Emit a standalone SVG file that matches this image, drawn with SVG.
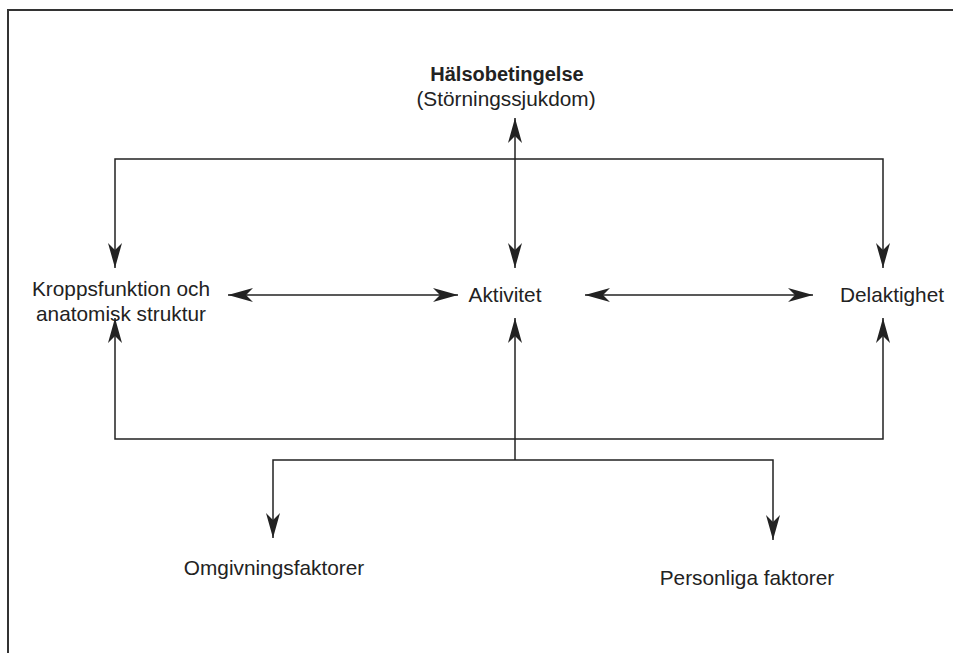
<svg xmlns="http://www.w3.org/2000/svg" width="953" height="653" viewBox="0 0 953 653">
<style>
.t{font-family:"Liberation Sans",Arial,sans-serif;font-size:20.8px;fill:#222;text-anchor:middle}
.b{font-weight:bold;font-size:20px}
.c{fill:none;stroke:#222;stroke-width:1.5}
.f{fill:none;stroke:#333;stroke-width:2}
</style>
<defs>
<marker id="ah" markerUnits="userSpaceOnUse" markerWidth="28" markerHeight="18" viewBox="-26 -9 28 18" refX="0" refY="0" orient="auto-start-reverse">
<path d="M0,0 L-25,-7 L-18,0 L-25,7 Z" fill="#222"/>
</marker>
</defs>
<rect width="953" height="653" fill="#fff"/>
<path class="f" d="M8,653 V10 H953"/>
<g id="connectors">
<path class="c" d="M515,268 V118" marker-start="url(#ah)" marker-end="url(#ah)"/>
<path class="c" d="M115,268 V159 H883 V268" marker-start="url(#ah)" marker-end="url(#ah)"/>
<path class="c" d="M115,318 V439 H883 V318" marker-start="url(#ah)" marker-end="url(#ah)"/>
<path class="c" d="M515,318 V460" marker-start="url(#ah)"/>
<path class="c" d="M273,538 V460 H773 V540" marker-start="url(#ah)" marker-end="url(#ah)"/>
<path class="c" d="M228,295 H458" marker-start="url(#ah)" marker-end="url(#ah)"/>
<path class="c" d="M585,295 H813" marker-start="url(#ah)" marker-end="url(#ah)"/>
</g>
<g id="halsobetingelse">
<text class="t b" x="507" y="81">Hälsobetingelse</text>
<text class="t" x="506" y="106">(Störningssjukdom)</text>
</g>
<g id="kroppsfunktion">
<text class="t" x="121" y="296">Kroppsfunktion och</text>
<text class="t" x="121" y="321">anatomisk struktur</text>
</g>
<g id="aktivitet"><text class="t" x="505" y="302">Aktivitet</text></g>
<g id="delaktighet"><text class="t" x="892" y="302">Delaktighet</text></g>
<g id="omgivningsfaktorer"><text class="t" x="274" y="575">Omgivningsfaktorer</text></g>
<g id="personliga"><text class="t" x="747" y="585">Personliga faktorer</text></g>
</svg>
